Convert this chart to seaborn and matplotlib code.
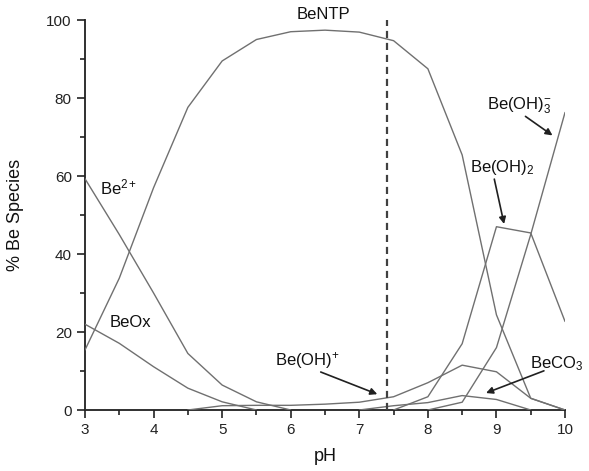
import numpy as np
import pandas as pd
import matplotlib
matplotlib.use('Agg')
import matplotlib.pyplot as plt
from matplotlib.ticker import MultipleLocator
import seaborn as sns

# pH grid and % of Be in each species (NaN = not drawn)
ph = [3.0, 3.5, 4.0, 4.5, 5.0, 5.5, 6.0, 6.5, 7.0, 7.5, 8.0, 8.5, 9.0, 9.5, 10.0]
nan = np.nan
be_ntp = [15.4, 33.8, 57.0, 77.6, 89.5, 95.0, 97.0, 97.4, 96.9, 94.7, 87.5, 65.4, 24.4, 3.0, 0.0]
be2 = [59.3, 45.0, 30.0, 14.5, 6.4, 2.1, 0.0, nan, nan, nan, nan, nan, nan, nan, nan]
be_ox = [22.0, 17.1, 11.1, 5.6, 2.1, 0.0, nan, nan, nan, nan, nan, nan, nan, nan, nan]
be_oh = [nan, nan, nan, 0.0, 1.1, 1.2, 1.2, 1.5, 2.0, 3.4, 7.0, 11.5, 9.8, 3.0, 0.0]
be_co3 = [nan, nan, nan, nan, nan, nan, nan, nan, 0.0, 1.1, 1.9, 3.7, 2.7, 0.0, nan]
be_oh2 = [nan, nan, nan, nan, nan, nan, nan, nan, nan, 0.0, 3.4, 17.0, 47.0, 45.4, 22.7]
be_oh3 = [nan, nan, nan, nan, nan, nan, nan, nan, nan, nan, 0.0, 2.0, 16.0, 45.0, 76.3]
physio_ph = 7.4

df = pd.DataFrame({'pH': ph, 'BeNTP': be_ntp, 'Be2+': be2, 'BeOx': be_ox,
                   'Be(OH)+': be_oh, 'BeCO3': be_co3, 'Be(OH)2': be_oh2,
                   'Be(OH)3-': be_oh3})

sns.set_style('ticks')
plt.rcParams['font.family'] = ['Liberation Sans', 'DejaVu Sans']
plt.rcParams['mathtext.fontset'] = 'custom'
plt.rcParams['mathtext.rm'] = 'Liberation Sans'
plt.rcParams['mathtext.it'] = 'Liberation Sans'
plt.rcParams['mathtext.default'] = 'rm'
plt.rcParams['text.color'] = '#111111'
plt.rcParams['axes.labelcolor'] = '#111111'
plt.rcParams['xtick.color'] = '#222222'
plt.rcParams['ytick.color'] = '#222222'

fig = plt.figure(figsize=(5.89, 4.71), dpi=100)
ax = fig.add_axes([0.1443, 0.1295, 0.815, 0.828])

for col in df.columns[1:]:
    sub = df[['pH', col]].dropna()
    sns.lineplot(data=sub, x='pH', y=col, ax=ax, color='#707070', lw=1.0,
                 estimator=None, sort=False)

ax.axvline(physio_ph, color='#404040', lw=1.6, ls=(0, (3.2, 2.2)))

ax.set_xlim(3, 10)
ax.set_ylim(0, 100)
ax.xaxis.set_major_locator(MultipleLocator(1))
ax.xaxis.set_minor_locator(MultipleLocator(0.5))
ax.yaxis.set_major_locator(MultipleLocator(20))
ax.yaxis.set_minor_locator(MultipleLocator(10))
ax.tick_params(which='major', length=6, width=1.2, labelsize=11)
ax.tick_params(which='minor', length=3.5, width=1.2)
for s in ['top', 'right']:
    ax.spines[s].set_visible(False)
for s in ['left', 'bottom']:
    ax.spines[s].set_linewidth(1.4)
    ax.spines[s].set_color('#303030')
    ax.spines[s].set_zorder(0.5)

ax.set_xlabel('pH', fontsize=13, labelpad=8)
ax.set_ylabel('% Be Species', fontsize=13, labelpad=16)

fs = 12
ax.text(6.47, 101.5, 'BeNTP', fontsize=fs, ha='center', va='center', clip_on=False)
ax.text(3.22, 57.0, 'Be$^{2+}$', fontsize=fs, ha='left', va='center')
ax.text(3.36, 22.5, 'BeOx', fontsize=fs, ha='left', va='center')
ax.text(5.77, 12.8, 'Be(OH)$^{+}$', fontsize=fs, ha='left', va='center')
ax.text(9.49, 12.0, 'BeCO$_{3}$', fontsize=fs, ha='left', va='center')
ax.text(8.61, 62.3, 'Be(OH)$_{2}$', fontsize=fs, ha='left', va='center')
ax.text(8.86, 78.0, 'Be(OH)$_{3}^{-}$', fontsize=fs, ha='left', va='center')

arrow = dict(arrowstyle='-|>', color='#202020', lw=1.2, mutation_scale=10)
ax.annotate('', xy=(7.3, 3.8), xytext=(6.4, 10.0), arrowprops=arrow)
ax.annotate('', xy=(8.81, 4.1), xytext=(9.73, 10.3), arrowprops=arrow)
ax.annotate('', xy=(9.12, 47.0), xytext=(8.96, 59.9), arrowprops=arrow)
ax.annotate('', xy=(9.85, 70.0), xytext=(9.39, 75.7), arrowprops=arrow)

fig.savefig('out.png', dpi=100)
